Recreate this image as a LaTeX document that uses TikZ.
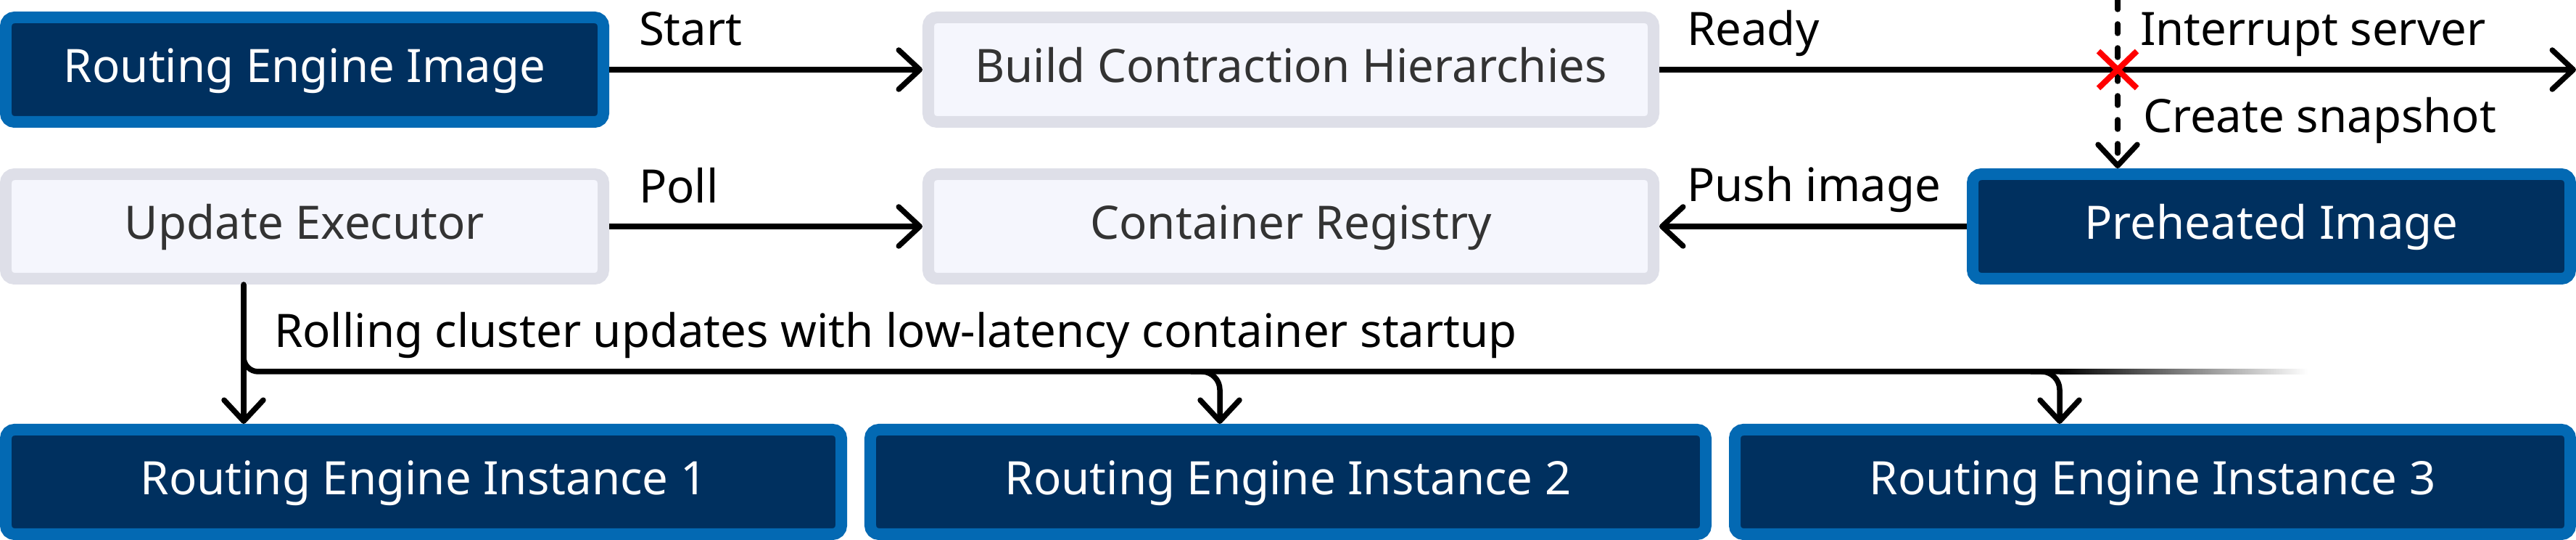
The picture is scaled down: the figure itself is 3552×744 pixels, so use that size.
\documentclass[tikz,border=0pt]{standalone}
\usepackage{fontspec}
\setmainfont{Noto Sans}
\usepackage{xcolor}
\usepackage{tikz}
\usetikzlibrary{arrows.meta}
\usetikzlibrary{shapes.misc}

\definecolor{bleufonce}{HTML}{00305F}
\definecolor{bleubord}{HTML}{0369B3}
\definecolor{grisbord}{HTML}{DEDFE8}
\definecolor{grisfond}{HTML}{F5F6FD}
\definecolor{gristexte}{HTML}{333333}

\tikzset{
  boite/.style={rounded corners=2.4pt, line width=3.2pt, outer sep=1.6pt, inner sep=0pt, minimum height=28.8pt, text height=1em, text depth=0.286em},
  sombre/.style={boite, draw=bleubord, fill=bleufonce, text=white},
  clair/.style={boite, draw=grisbord, fill=grisfond, text=gristexte},
  fleche/.style={line width=1.5pt, -{Straight Barb[length=5.8pt,width=10.8pt,round]}},
  trait/.style={line width=1.5pt, line cap=round},
  etiquette/.style={anchor=base west, inner sep=0pt},
}

\begin{document}
\begin{tikzpicture}[x=0.2pt, y=-0.2pt, font=\fontsize{12.7}{15.2}\selectfont]
    \useasboundingbox (0,0) rectangle (3552,744);

    % Nœuds du diagramme
    \node[sombre, minimum width=164.8pt] (image) at (420,96) {Routing Engine Image};
    \node[clair, minimum width=200pt] (build) at (1780,96) {Build Contraction Hierarchies};
    \node[clair, minimum width=164.8pt] (executor) at (420,312) {Update Executor};
    \node[clair, minimum width=200pt] (registry) at (1780,312) {Container Registry};
    \node[sombre, minimum width=164.8pt] (preheated) at (3132,312) {Preheated Image};
    \node[sombre, minimum width=230.4pt] (inst1) at (584,664) {Routing Engine Instance 1};
    \node[sombre, minimum width=230.4pt] (inst2) at (1776,664) {Routing Engine Instance 2};
    \node[sombre, minimum width=230.4pt] (inst3) at (2968,664) {Routing Engine Instance 3};

    % Points libres
    \coordinate (bordd) at (3552,96);
    \coordinate (coupure) at (2920,0);
    \coordinate (tronc) at ([xshift=-16.8pt]executor.south);
    \coordinate (derive2) at (1682,512);
    \coordinate (derive3) at (2840,512);
    \coordinate (fondu) at (3182,512);

    % Trajets
    \draw[fleche] (image) -- (build);
    \draw[fleche] (build) -- (bordd);
    \draw[fleche, line cap=round, dash pattern=on 2.6pt off 4pt] (coupure) -- (coupure |- preheated.north);
    \draw[fleche] (executor) -- (registry);
    \draw[fleche] (preheated) -- (registry);
    \draw[fleche] (tronc) -- (tronc |- inst1.north);
    \draw[trait, rounded corners=4pt] (tronc) |- (derive3);
    \draw[fleche, rounded corners=5pt] ([xshift=-8pt]derive2) -- (derive2) -- (derive2 |- inst2.north);
    \draw[fleche, rounded corners=5pt] ([xshift=-8pt]derive3) -- (derive3) -- (derive3 |- inst3.north);
    \shade[left color=black, right color=white] ([yshift=0.75pt]derive3) rectangle ([yshift=-0.75pt]fondu);

    % Interruption
    \node[draw=red, cross out, line width=1.6pt, minimum width=9pt, minimum height=8.6pt, inner sep=0pt] (croix) at (2920,96) {};

    % Étiquettes
    \node[etiquette] (lstart) at (880,63) {Start};
    \node[etiquette] (lready) at (2325,63) {Ready};
    \node[etiquette] (linterrupt) at (2950,63) {Interrupt server};
    \node[etiquette] (lsnapshot) at (2954,183) {Create snapshot};
    \node[etiquette] (lpoll) at (880,280) {Poll};
    \node[etiquette] (lpush) at (2325,278) {Push image};
    \node[etiquette] (lrolling) at (377,479) {Rolling cluster updates with low-latency container startup};
\end{tikzpicture}
\end{document}
